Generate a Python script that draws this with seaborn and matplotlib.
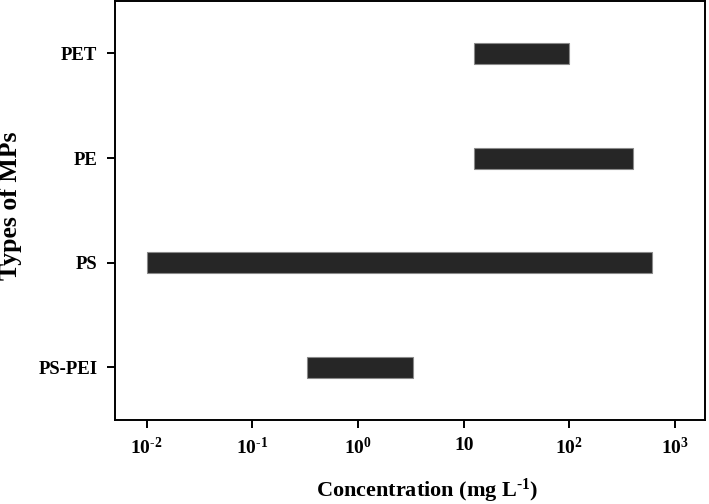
import numpy as np
import seaborn as sns
import matplotlib.pyplot as plt
from matplotlib.ticker import FixedLocator, FixedFormatter, NullLocator

# concentration ranges tested for each type of microplastic (mg/L)
mp_types = ['PET', 'PE', 'PS', 'PS-PEI']
conc_low = [12.5, 12.5, 0.01, 0.33]
conc_high = [100, 400, 600, 3.3]

tick_vals = [1e-2, 1e-1, 1e0, 1e1, 1e2, 1e3]
tick_text = [r'$10^{\text{-}2}$', r'$10^{\text{-}1}$', '$10^{0}$', '10',
             '$10^{2}$', '$10^{3}$']

sns.set_theme(style='ticks')
plt.rcParams['font.family'] = ['Liberation Serif', 'DejaVu Serif']
plt.rcParams['font.weight'] = 'bold'
plt.rcParams['mathtext.fontset'] = 'custom'
plt.rcParams['mathtext.rm'] = 'Liberation Serif:bold'
plt.rcParams['mathtext.default'] = 'rm'
plt.rcParams['text.color'] = 'black'
plt.rcParams['axes.labelcolor'] = 'black'

fig = plt.figure(figsize=(7.09, 5.04), dpi=100)
ax = fig.add_axes([0.162, 0.167, 0.832, 0.831])

ypos = np.arange(len(mp_types))
widths = np.array(conc_high) - np.array(conc_low)
ax.barh(ypos, widths, left=conc_low, height=0.2, color='#262626',
        edgecolor='#8a8a8a', linewidth=0.8)

ax.set_xscale('log')
ax.set_xlim(10 ** -2.30, 10 ** 3.28)
ax.set_ylim(3.5, -0.5)
ax.xaxis.set_major_locator(FixedLocator(tick_vals))
ax.xaxis.set_major_formatter(FixedFormatter(tick_text))
ax.xaxis.set_minor_locator(NullLocator())
ax.set_yticks(ypos)
ax.set_yticklabels(mp_types)

for s in ax.spines.values():
    s.set_linewidth(1.4)
    s.set_color('black')
ax.tick_params(axis='both', direction='out', length=5.5, width=1.4,
               colors='black', labelcolor='black', labelsize=14)
ax.tick_params(axis='y', pad=7, labelsize=13.5)
ax.tick_params(axis='x', pad=7)

ax.set_xlabel('Concentration (mg L$^{\\text{-}1}$)', fontsize=16,
              fontweight='bold')
ax.xaxis.set_label_coords(0.529, -0.137)
ax.set_ylabel('Types of MPs', fontsize=18.5, fontweight='bold')
ax.yaxis.set_label_coords(-0.157, 0.51)

fig.savefig('out.png', dpi=100)
